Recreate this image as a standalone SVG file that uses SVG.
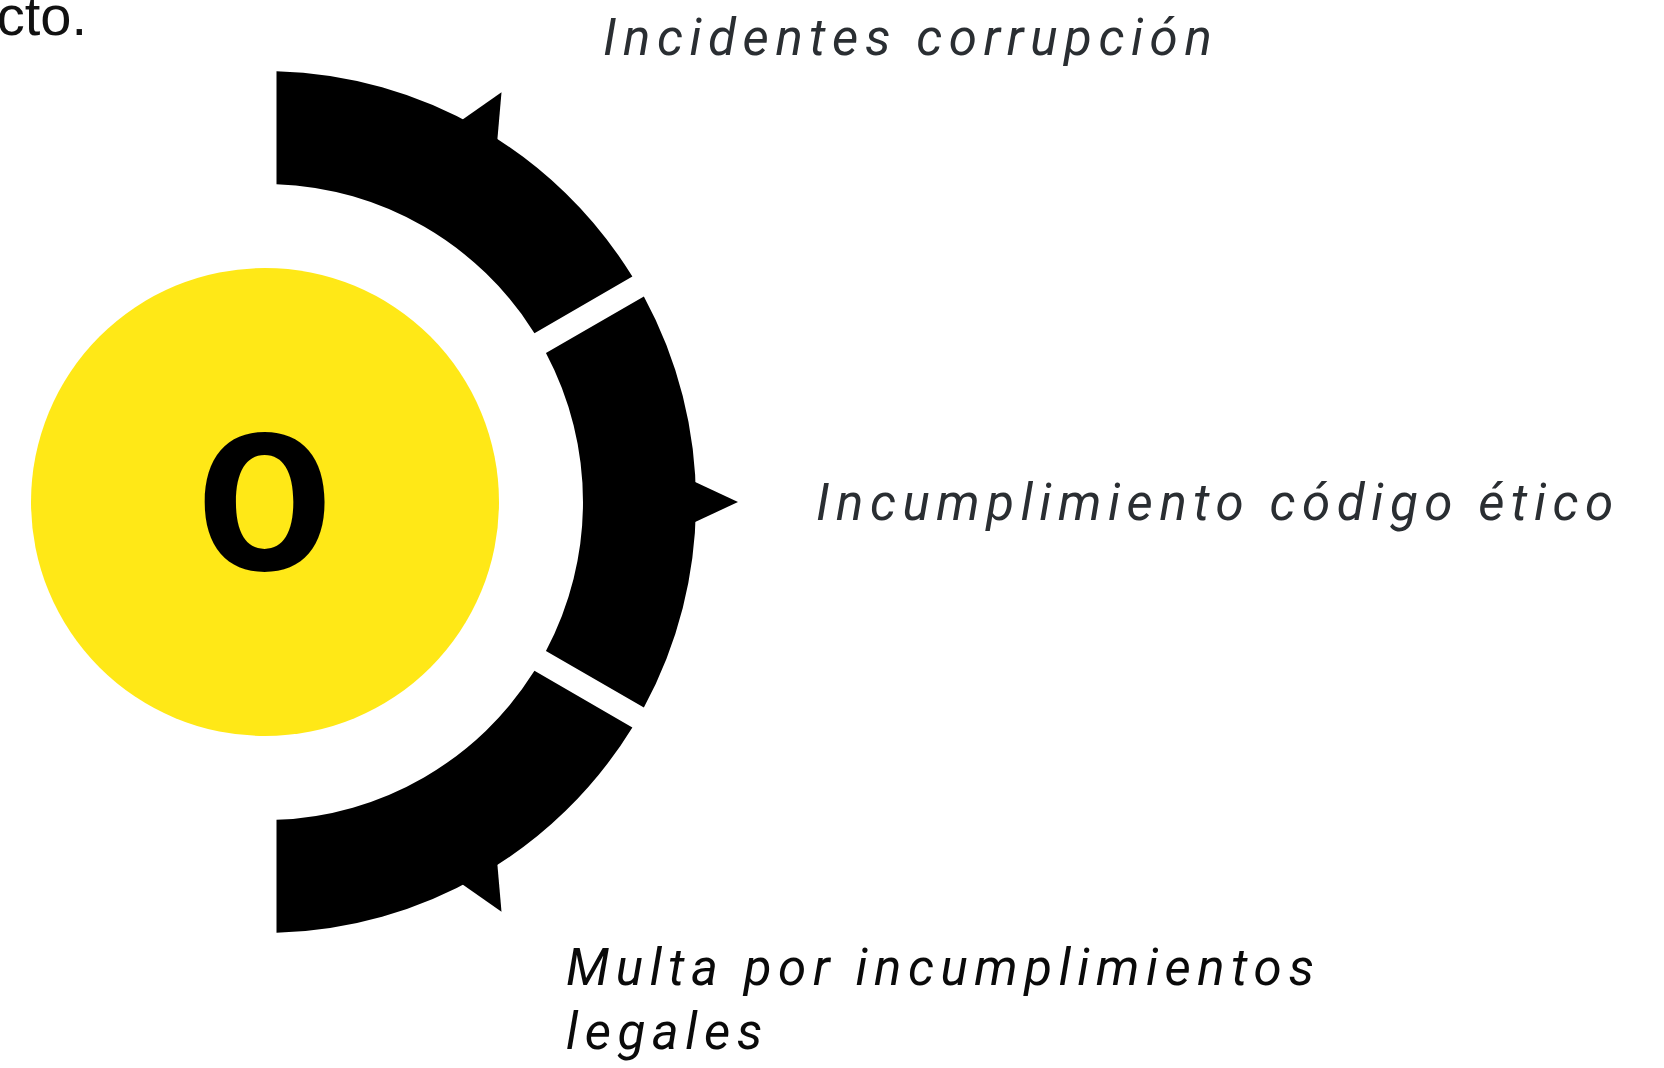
<svg xmlns="http://www.w3.org/2000/svg" width="1664" height="1068" viewBox="0 0 1664 1068">
  <style>
    .seg { fill: #000000; }
    .lbl { font-family: Roboto, "Liberation Sans", sans-serif; font-style: italic; font-size: 51px; letter-spacing: 6.6px; fill: #2a2e32; }
    .lbl-dark { fill: #0a0a0a; }
  </style>
  <defs>
    <polygon id="tip" points="693,481 738,502 693,523"/>
  </defs>
  <rect width="1664" height="1068" fill="#ffffff"/>

  <text id="fragment" x="87" y="35" text-anchor="end" font-family="'Liberation Sans', Arial, sans-serif" font-size="56" fill="#111111">cto.</text>

  <g id="center-node">
    <circle cx="265" cy="502" r="234" fill="#ffe817"/>
    <text x="0" y="0" transform="translate(264.5 569.5) scale(1.1 1)" text-anchor="middle" font-family="Inter, 'Open Sans', sans-serif" font-weight="700" font-size="187" fill="#000000">0</text>
  </g>

  <g id="connectors">
    <g id="seg-top">
      <path class="seg" d="M 276.5,71.15 A 431 431 0 0 1 632.37,276.62 L 534.46,333.14 A 318 318 0 0 0 276.5,184.2 Z"/>
      <use href="#tip" class="seg" transform="rotate(-60 265 502)"/>
    </g>
    <g id="seg-mid">
      <path class="seg" d="M 643.87,296.54 A 431 431 0 0 1 643.87,707.46 L 545.96,650.94 A 318 318 0 0 0 545.96,353.06 Z"/>
      <use href="#tip" class="seg"/>
    </g>
    <g id="seg-bot">
      <path class="seg" d="M 632.37,727.38 A 431 431 0 0 1 276.5,932.85 L 276.5,819.8 A 318 318 0 0 0 534.46,670.86 Z"/>
      <use href="#tip" class="seg" transform="rotate(60 265 502)"/>
    </g>
  </g>

  <g id="label-top">
    <text class="lbl" x="603" y="55">Incidentes corrupción</text>
  </g>
  <g id="label-mid">
    <text class="lbl" x="816" y="520">Incumplimiento código ético</text>
  </g>
  <g id="label-bot">
    <text class="lbl lbl-dark" x="566" y="985">Multa por incumplimientos</text>
    <text class="lbl lbl-dark" x="566" y="1049">legales</text>
  </g>
</svg>
